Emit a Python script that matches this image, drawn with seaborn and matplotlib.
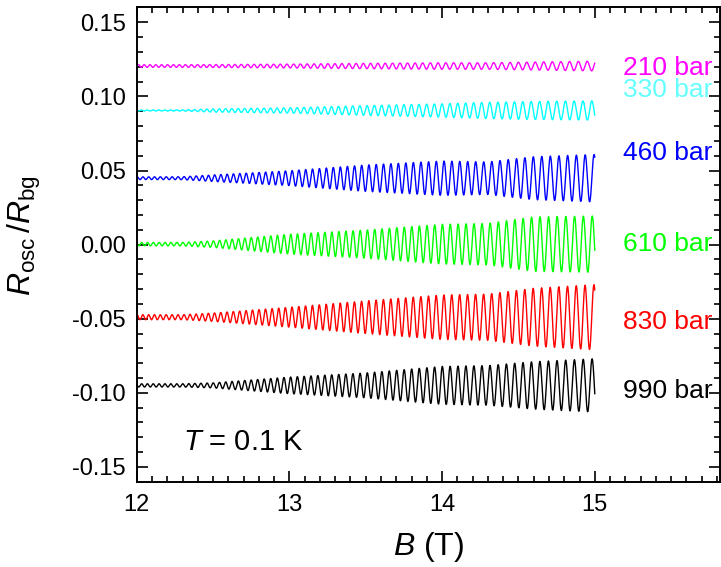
import numpy as np
import pandas as pd
import matplotlib
matplotlib.use("Agg")
import matplotlib.pyplot as plt
import seaborn as sns
from matplotlib.ticker import MultipleLocator, FormatStrFormatter

# pressures (bar), trace offsets, label positions and colours
pressures = ["210 bar", "330 bar", "460 bar", "610 bar", "830 bar", "990 bar"]
offsets = [0.1205, 0.0905, 0.0448, 0.0003, -0.0490, -0.0950]
label_y = [0.1192, 0.1045, 0.0616, 0.0006, -0.0523, -0.0985]
line_colors = ["#ff00ff", "#00ffff", "#0000ff", "#00ff00", "#ff0000", "#000000"]
text_colors = ["#ff00ff", "#66ffff", "#0000ff", "#00ff00", "#ff0000", "#000000"]

# oscillation envelope (half peak-to-peak) at these fields, per trace
env_B = [12.0, 12.3, 12.5, 13.0, 13.5, 14.0, 14.3, 14.6, 15.0]
env_210 = [0.0009, 0.0009, 0.0010, 0.0013, 0.0018, 0.0022, 0.0022, 0.0027, 0.0033]
env_330 = [0.0003, 0.0004, 0.0011, 0.0018, 0.0033, 0.0045, 0.0055, 0.0061, 0.0065]
env_460 = [0.0009, 0.0010, 0.0022, 0.0050, 0.0089, 0.0116, 0.0110, 0.0145, 0.0160]
env_610 = [0.0011, 0.0012, 0.0022, 0.0067, 0.0095, 0.0134, 0.0140, 0.0184, 0.0190]
env_830 = [0.0017, 0.0017, 0.0028, 0.0067, 0.0110, 0.0150, 0.0156, 0.0195, 0.0220]
env_990 = [0.0011, 0.0011, 0.0017, 0.0056, 0.0084, 0.0128, 0.0134, 0.0160, 0.0180]
envelopes = [env_210, env_330, env_460, env_610, env_830, env_990]
phases = [3.0, 0.0, 1.6, 0.3, 1.5, 0.2]

# SdH frequency from the peak spacing (T)
F_osc = 3850.0

B = np.linspace(12.0, 15.0, 4000)
frames = []
for p, off, env, ph in zip(pressures, offsets, envelopes, phases):
    amp = np.interp(B, env_B, env)
    r = off + amp * np.cos(2 * np.pi * F_osc / B + ph)
    frames.append(pd.DataFrame({"B": B, "R": r, "p": p}))
df = pd.concat(frames, ignore_index=True)

sns.set_theme(style="ticks")
plt.rcParams["font.family"] = ["Liberation Sans", "DejaVu Sans"]
plt.rcParams["mathtext.fontset"] = "custom"
plt.rcParams["mathtext.rm"] = "Liberation Sans"
plt.rcParams["mathtext.it"] = "Liberation Sans:italic"
plt.rcParams["axes.unicode_minus"] = False
plt.rcParams["text.color"] = "black"
plt.rcParams["axes.labelcolor"] = "black"
plt.rcParams["xtick.color"] = "black"
plt.rcParams["ytick.color"] = "black"

fig = plt.figure(figsize=(7.21, 5.67), dpi=100)
ax = fig.add_axes([0.1896, 0.1504, 0.809, 0.8364])

sns.lineplot(data=df, x="B", y="R", hue="p", palette=dict(zip(pressures, line_colors)),
             estimator=None, sort=False, linewidth=1.0, legend=False, ax=ax)

for p, y, c in zip(pressures, label_y, text_colors):
    ax.text(15.77, y, p, color=c, fontsize=19, ha="right", va="center")

ax.text(12.30, -0.1335, r"$T$ = 0.1 K", fontsize=21, ha="left", va="center")

ax.set_xlim(12, 15.82)
ax.set_ylim(-0.16, 0.16)
ax.xaxis.set_major_locator(MultipleLocator(1))
ax.xaxis.set_minor_locator(MultipleLocator(0.1))
ax.yaxis.set_major_locator(MultipleLocator(0.05))
ax.yaxis.set_minor_locator(MultipleLocator(0.01))
ax.yaxis.set_major_formatter(FormatStrFormatter("%.2f"))
ax.xaxis.set_major_formatter(FormatStrFormatter("%d"))
ax.tick_params(which="both", direction="in", top=True, right=True, width=1.2,
               color="black", labelcolor="black")
ax.tick_params(which="major", length=8, labelsize=17)
ax.tick_params(axis="y", which="major", pad=8)
ax.tick_params(axis="x", which="major", pad=9)
ax.tick_params(which="minor", length=4)
for s in ax.spines.values():
    s.set_linewidth(1.4)
    s.set_color("black")

ax.set_xlabel(r"$B$ (T)", fontsize=23, labelpad=10)
ax.set_ylabel(r"$R_{\rm osc}\,/R_{\rm bg}$", fontsize=23)
ax.yaxis.set_label_coords(-0.160, 0.52)

fig.savefig("out.png", dpi=100)
